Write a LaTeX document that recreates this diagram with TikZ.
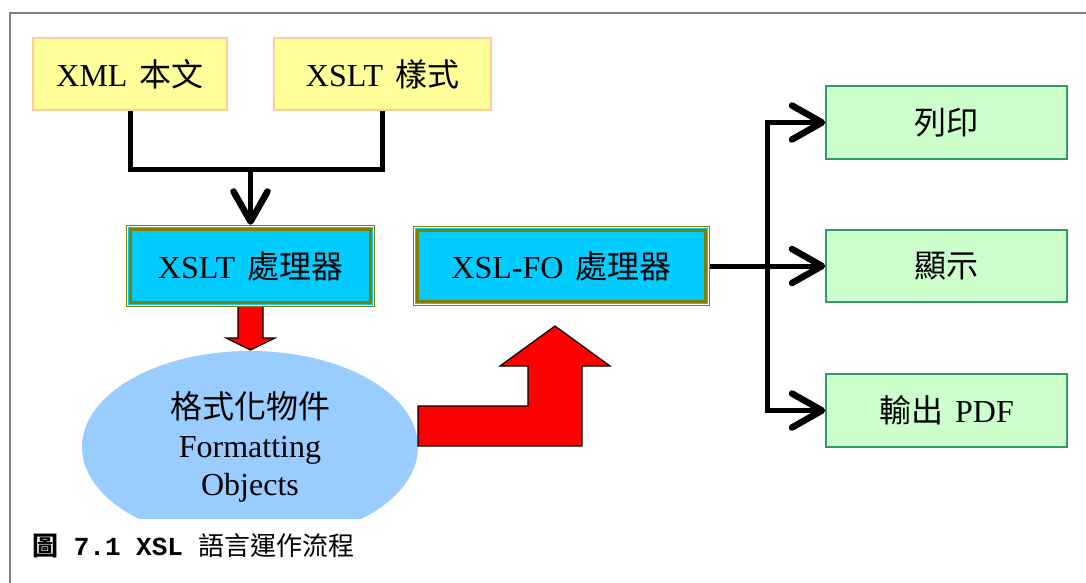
\documentclass[tikz,border=0pt]{standalone}
\usepackage{fontspec}
\setmainfont{Liberation Serif}
\setmonofont{Liberation Mono}
\newfontfamily\cjk{Noto Sans CJK TC}
\usetikzlibrary{arrows.meta,shapes.geometric}
\definecolor{yfill}{HTML}{FFFF99}
\definecolor{ybord}{HTML}{FFCC99}
\definecolor{cfill}{HTML}{00CCFF}
\definecolor{oliveb}{HTML}{808000}
\definecolor{gfill}{HTML}{CCFFCC}
\definecolor{gbord}{HTML}{339966}
\definecolor{efill}{HTML}{99CCFF}
\definecolor{framec}{HTML}{808080}
\tikzset{
  big/.style={font=\fontsize{32}{38.4}\selectfont},
  ybox/.style={big, draw=ybord, fill=yfill, line width=1.5pt, inner sep=0pt, minimum height=72pt},
  pbox/.style={draw=oliveb, fill=cfill, line width=2.5pt, inner sep=0pt},
  gbox/.style={big, draw=gbord, fill=gfill, line width=1.5pt, inner sep=0pt, minimum width=241pt},
  conn/.style={line width=5pt, black, line join=miter},
  tip/.style={-{Straight Barb[length=30pt,width=34pt,line width=6.5pt 0,round]}},
  redarrow/.style={fill=red, draw=black, line width=1.2pt, line join=miter}
}
\begin{document}
\begin{tikzpicture}[x=1pt,y=-1pt]
\useasboundingbox (0,0) rectangle (1086,583);
\fill[white] (0,0) rectangle (1086,583);
% frame
\draw[framec, line width=1.5pt] (1086,13) -- (10,13) -- (10,583);
% ellipse (clipped)
\begin{scope}
  \clip (0,0) rectangle (1086,518);
  \node[ellipse, fill=efill, minimum width=336pt, minimum height=192pt, inner sep=0pt] (fo) at (250,447) {};
\end{scope}
\node[big, align=center, inner sep=0pt] (fotext) at (250,447) {{\cjk 格式化物件}\\Formatting\\Objects};
% red arrows
\draw[redarrow] (238,304) -- (263,304) -- (263,338) -- (275,338) -- (250.5,350) -- (226,338) -- (238,338) -- cycle;
\draw[redarrow] (418,406) -- (528,406) -- (528,366) -- (500,366) -- (555,326) -- (610,366) -- (582,366) -- (582,446) -- (418,446) -- cycle;
% boxes
\node[ybox, minimum width=194pt] (xml) at (130,74) {XML\hspace{12pt}{\cjk 本文}};
\node[ybox, minimum width=217pt] (xslt) at (382.5,74) {XSLT\hspace{12pt}{\cjk 樣式}};
\node[pbox, minimum width=247pt, minimum height=80pt] (xsltp) at (250.5,266) {};
\node[pbox, minimum width=295pt, minimum height=78pt] (fop) at (561.5,266) {};
\foreach \n in {xsltp,fop}{
  \draw[white, line width=1pt] ([shift={(2,2)}]\n.north west) rectangle ([shift={(-2,-2)}]\n.south east);
  \draw[oliveb, line width=3pt] ([shift={(5,5)}]\n.north west) rectangle ([shift={(-5,-5)}]\n.south east);
}
\node[big, inner sep=0pt] (xsltpt) at (xsltp.center) {XSLT\hspace{12pt}{\cjk 處理器}};
\node[big, inner sep=0pt] (fopt) at (fop.center) {XSL-FO\hspace{12pt}{\cjk 處理器}};
\node[gbox, minimum height=73pt] (print) at (946.5,122.5) {{\cjk 列印}};
\node[gbox, minimum height=72pt] (show) at (946.5,266) {{\cjk 顯示}};
\node[gbox, minimum height=73pt] (pdf) at (946.5,410.5) {{\cjk 輸出}\hspace{12pt}PDF};
% connectors
\coordinate (join) at (250.5,169);
\coordinate (br) at (767,266);
\draw[conn] (xml.south) |- (join) -| (xslt.south);
\draw[conn, tip] (join) -- (xsltp.north);
\draw[conn, tip] (fop.east) -- (show.west);
\draw[conn, tip] (br) |- (print.west);
\draw[conn, tip] (br) |- (pdf.west);
% caption
\node[anchor=west, inner sep=0pt, font=\fontsize{26}{30}\selectfont] (cap) at (32,546) {{\cjk\bfseries 圖}{\ttfamily\bfseries\ 7.1 XSL\ }{\cjk 語言運作流程}};
\end{tikzpicture}
\end{document}
